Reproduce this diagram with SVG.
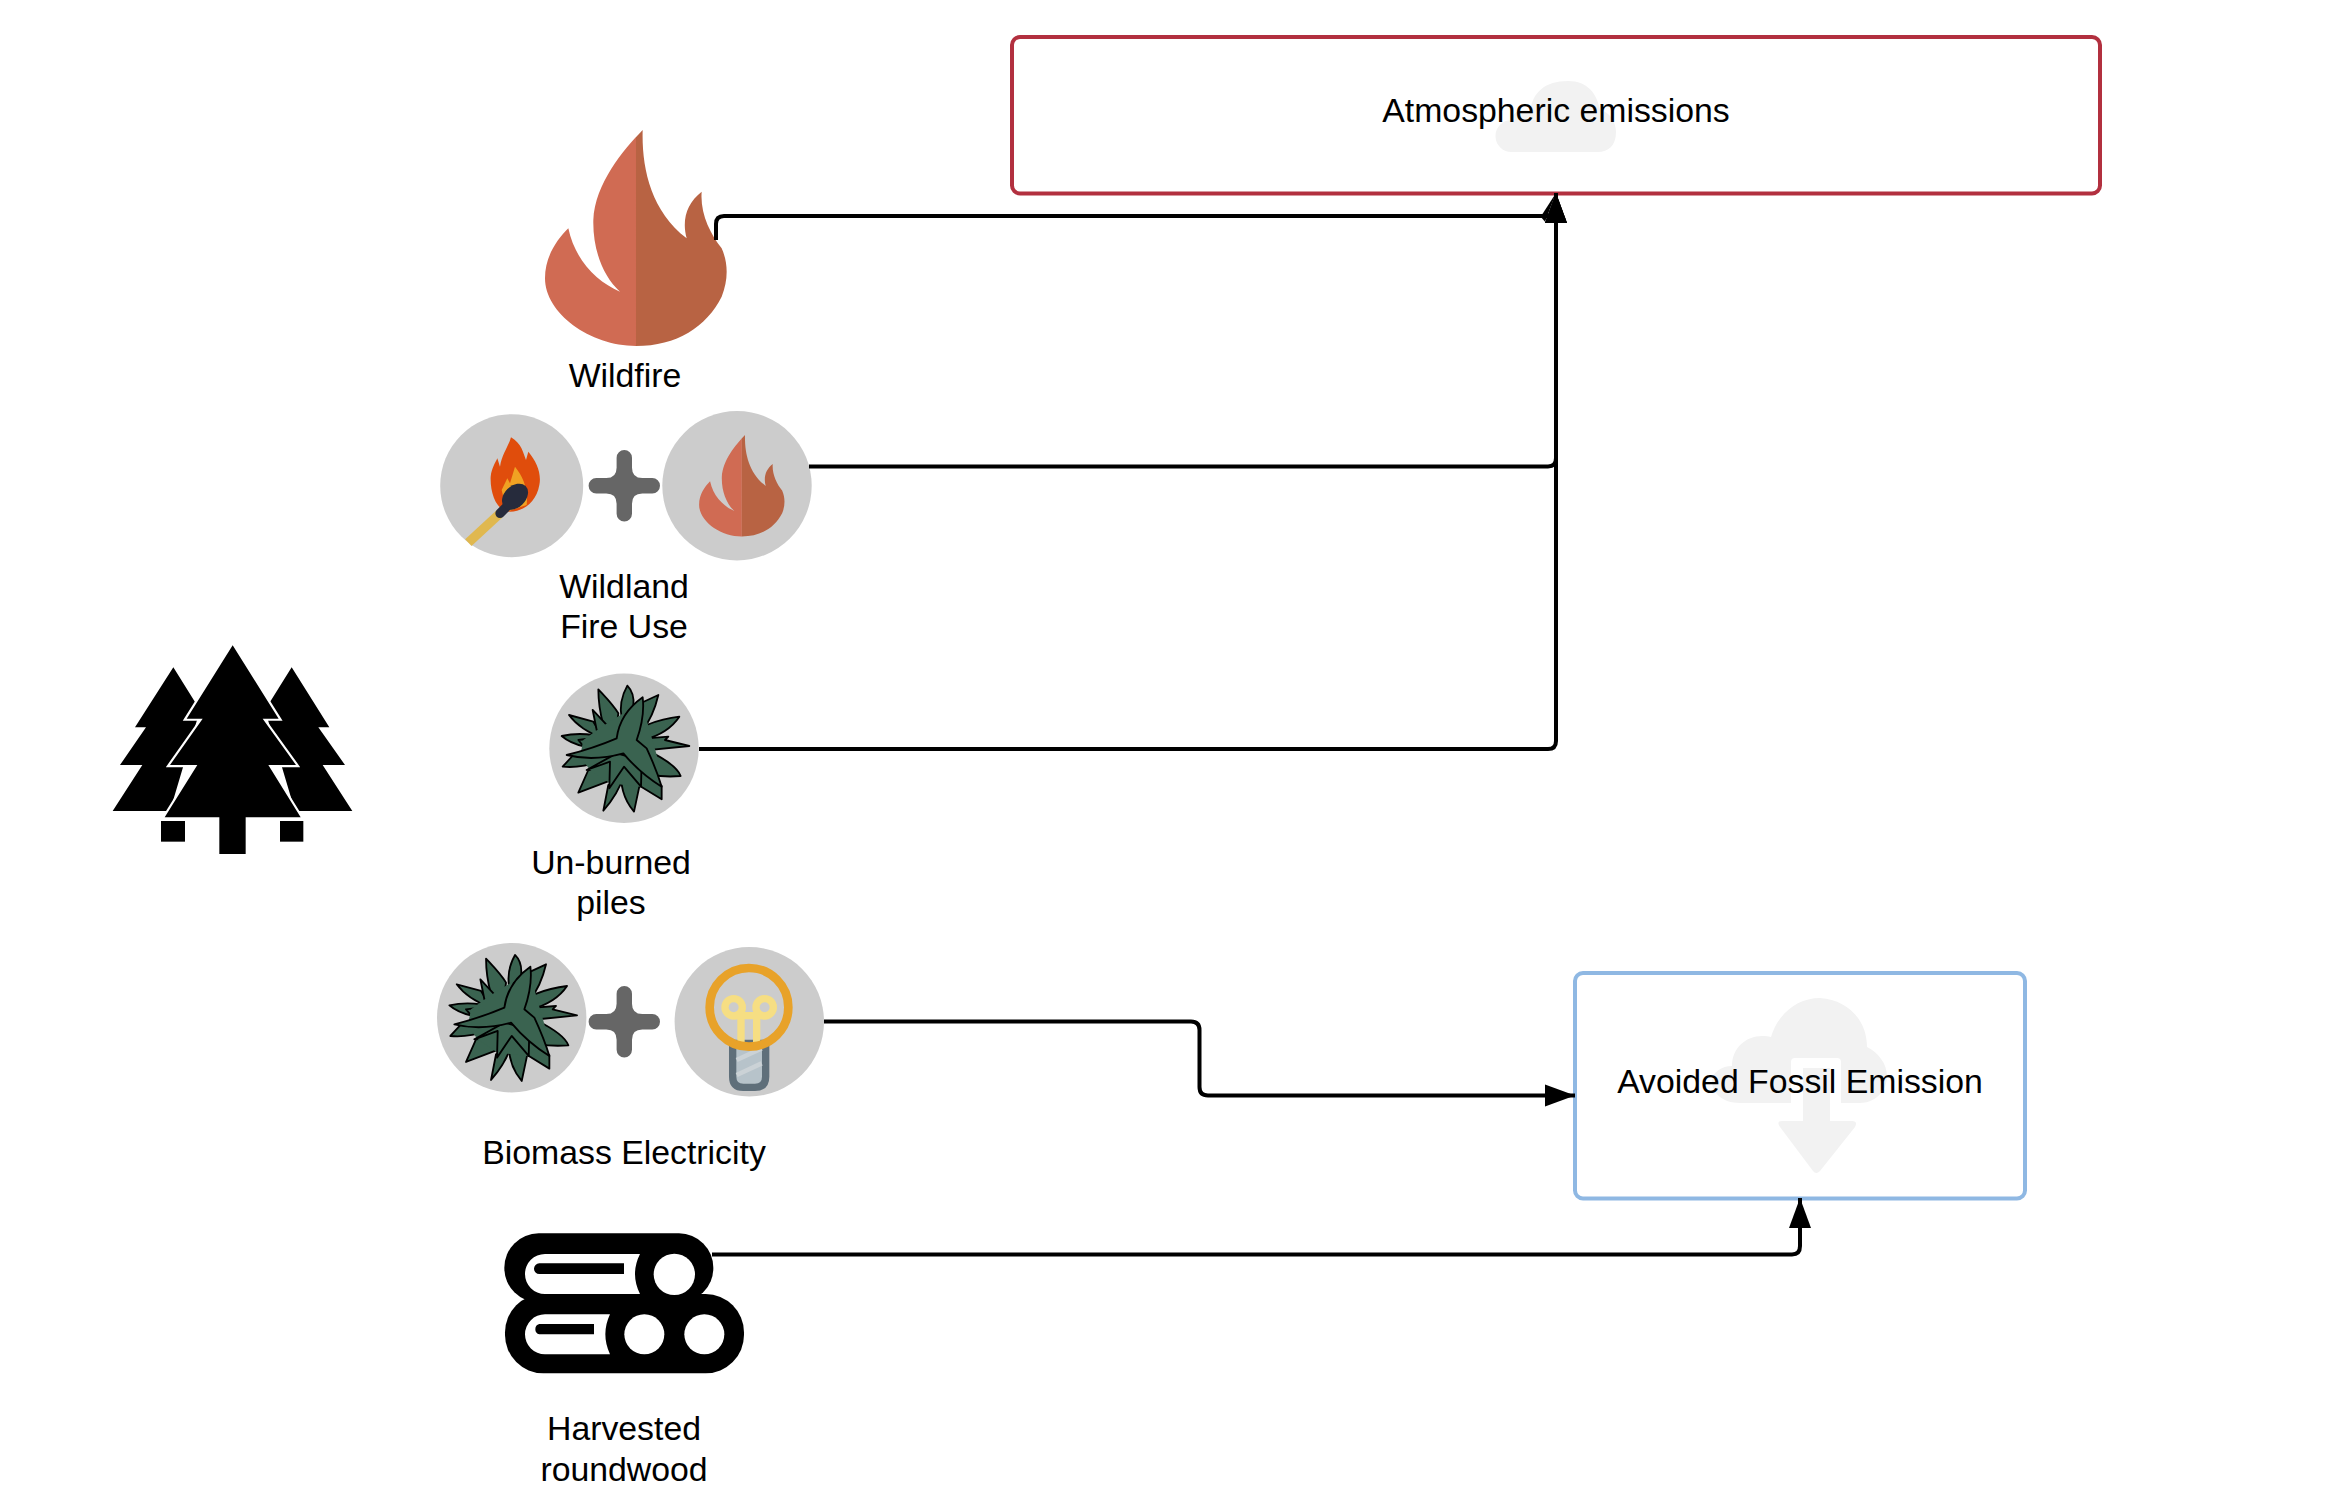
<svg xmlns="http://www.w3.org/2000/svg" xmlns:xlink="http://www.w3.org/1999/xlink" width="2337" height="1500" viewBox="0 0 2337 1500">
<style>
text{font-family:"Liberation Sans",Arial,sans-serif;font-size:33.8px;fill:#000;text-anchor:middle}
.conn{fill:none;stroke:#000;stroke-width:4}
.disc{fill:#ccc}
.plus{fill:#666}
.ghost{fill:#f2f2f2}
.leaf{fill:#3a6350;stroke:#000;stroke-width:5.500;stroke-linejoin:round}
</style>
<defs>
<marker id="arrow" markerUnits="userSpaceOnUse" markerWidth="31" markerHeight="23" refX="30" refY="11.500" orient="auto"><path d="M0 .5L30 11.500L0 22.500Z" fill="#000"/></marker>
<path id="plus-shape" d="M-7.700 -28A7.700 7.700 0 0 1 7.700 -28V-18Q7.700 -7.700 18 -7.700H28A7.700 7.700 0 0 1 28 7.700H18Q7.700 7.700 7.700 18V28A7.700 7.700 0 0 1 -7.700 28V18Q-7.700 7.700 -18 7.700H-28A7.700 7.700 0 0 1 -28 -7.700H-18Q-7.700 -7.700 -7.700 -18Z"/>
<g id="flame">
<path fill="#d06b53" d="M668 90C610 150 525 250 520 360C518 450 550 530 600 575C530 545 465 480 445 385C410 420 375 470 375 535C375 640 510 738 648 738V112Z"/>
<path fill="#b86343" d="M648 112L668 90C665 200 690 330 800 415C785 360 800 310 845 275C840 340 870 400 905 445C925 490 925 540 905 590C860 680 770 738 648 738Z"/>
</g>
<g id="plant">
<path class="leaf" d="M535 88C560 115 580 135 595 160L590 200L550 195Q535 140 535 88Z"/>
<path class="leaf" d="M622 77Q645 100 640 140L605 175Q595 125 622 77Z"/>
<path class="leaf" d="M715 105Q700 170 665 215L650 135Z"/>
<path class="leaf" d="M778 170Q745 220 670 240L680 195Q730 175 778 170Z"/>
<path class="leaf" d="M808 258L670 272L680 235L745 230L735 240Z"/>
<path class="leaf" d="M690 275Q770 315 782 348Q740 352 690 345Z"/>
<path class="leaf" d="M725 418L655 375L640 310L725 378Z"/>
<path class="leaf" d="M642 455Q595 400 605 320L660 370Z"/>
<path class="leaf" d="M550 452L565 375L610 350Q595 400 550 452Z"/>
<path class="leaf" d="M475 398L505 330L570 325L570 362Z"/>
<path class="leaf" d="M428 320L460 285L540 305Q480 325 428 320Z"/>
<path class="leaf" d="M425 228Q470 218 520 225L495 260Q450 250 425 228Z"/>
<path class="leaf" d="M447 165L520 185L550 235Q480 210 447 165Z"/>
<path class="leaf" d="M518 150L560 195L595 197L590 240L530 210Z"/>
<path class="leaf" d="M475 240L590 225L590 265L500 270Z"/>
<path class="leaf" d="M545 200L610 160L680 180L700 250L720 320L660 380L570 370L510 330L480 290L490 240Z" style="stroke:none"/>
<path class="leaf" d="M500 330L570 305L568 385L612 320L663 380L665 300L590 280Z"/>
<path class="leaf" d="M668 112Q675 170 650 240L680 265Q710 330 725 380Q660 340 610 280Q520 305 440 285Q520 265 590 235Q600 160 668 112Z"/>
</g>
</defs>
<rect width="2337" height="1500" fill="#fff"/>

<g id="atmospheric-emissions">
<rect x="1012" y="37" width="1088" height="156.500" rx="8" fill="#fff" stroke="#b2303f" stroke-width="4"/>
<path class="ghost" d="M1512 152A16 16 0 0 1 1511 120C1513 112 1522 108 1530 111C1533 92 1545 81 1568 81C1588 81 1597 94 1600 110C1610 112 1616 122 1616 132C1616 146 1608 152 1598 152Z"/>
<text x="1556" y="121.500">Atmospheric emissions</text>
</g>

<g id="avoided-fossil-emission">
<rect x="1575" y="973" width="450" height="225.500" rx="8" fill="#fff" stroke="#8fb8e3" stroke-width="4"/>
<path class="ghost" d="M1740 1103C1722 1103 1712 1092 1712 1082C1712 1072 1722 1066 1732 1066C1732 1048 1746 1036 1762 1036C1766 1036 1768 1036 1771 1037C1778 1014 1797 998 1820 998C1848 1000 1867 1020 1867 1047C1878 1052 1887 1064 1887 1076C1887 1092 1874 1103 1860 1103Z"/>
<rect x="1791" y="1058" width="50" height="60" rx="4" fill="#fff"/>
<path class="ghost" d="M1803 1068H1830V1121H1852Q1858 1121 1855 1127L1820 1171Q1816 1175 1813 1171L1780 1127Q1776 1121 1782 1121H1803Z"/>
<text x="1800" y="1092.500">Avoided Fossil Emission</text>
</g>

<g id="wildfire">
<use xlink:href="#flame" href="#flame" transform="translate(420 100) scale(.33333)"/>
<text x="625" y="386.500">Wildfire</text>
</g>

<g id="wildland-fire-use">
<circle class="disc" cx="511.700" cy="485.700" r="71.500"/>
<g transform="translate(420 100) scale(.33333)">
<path fill="#e04d0c" d="M273 1012C305 1030 310 1060 318 1080L325 1055C350 1085 365 1120 358 1155C350 1205 310 1235 270 1235C230 1235 210 1180 212 1130C215 1105 225 1090 232 1075L240 1100C245 1065 265 1040 273 1012Z"/>
<path fill="#f0a223" d="M285 1100C310 1130 325 1170 320 1215L260 1235L245 1170L262 1135L270 1150Z"/>
<path d="M145 1328L240 1240" fill="none" stroke="#e0b84f" stroke-width="28"/>
<path d="M240 1240L290 1190" fill="none" stroke="#262b3c" stroke-width="28" stroke-linecap="round"/>
<ellipse cx="285" cy="1190" rx="45" ry="32" transform="rotate(-45 285 1190)" fill="#262b3c"/>
</g>
<use class="plus" xlink:href="#plus-shape" href="#plus-shape" transform="translate(624.300 485.700)"/>
<circle class="disc" cx="737" cy="485.700" r="74.700"/>
<use xlink:href="#flame" href="#flame" transform="translate(640.350 420.900) scale(.15667)"/>
<text x="624" y="597.500">Wildland</text>
<text x="624" y="638">Fire Use</text>
</g>

<g id="unburned-piles">
<circle class="disc" cx="624" cy="748.300" r="74.700"/>
<use xlink:href="#plant" href="#plant" transform="translate(420 660) scale(.33333)"/>
<text x="611" y="874">Un-burned</text>
<text x="611" y="914">piles</text>
</g>

<g id="biomass-electricity">
<circle class="disc" cx="511.700" cy="1017.700" r="74.700"/>
<use xlink:href="#plant" href="#plant" transform="translate(307.700 929.300) scale(.33333)"/>
<use class="plus" xlink:href="#plus-shape" href="#plus-shape" transform="translate(624.300 1021.700)"/>
<circle class="disc" cx="749.300" cy="1021.700" r="74.700"/>
<g transform="translate(420 660) scale(.33333)">
<path d="M938 1150V1250Q938 1282 970 1282H1005Q1037 1282 1037 1250V1150Z" fill="#b7c3ca" stroke="#5f6f7a" stroke-width="22"/>
<path d="M950 1200L1025 1165M950 1245L1025 1210" stroke="#cbd2d6" stroke-width="14" fill="none"/>
<g fill="none" stroke="#f6de83" stroke-width="22">
<circle cx="941" cy="1042" r="26"/>
<circle cx="1034" cy="1042" r="26"/>
<path d="M963 1068V1150M1010 1068V1150M945 1067H1030"/>
</g>
<circle cx="987" cy="1042" r="118" fill="none" stroke="#e8a229" stroke-width="26"/>
</g>
<text x="624" y="1164">Biomass Electricity</text>
</g>

<g id="harvested-roundwood">
<g transform="translate(480 1220) scale(.33333)">
<rect x="73" y="40" width="627" height="207" rx="103" fill="#000"/>
<rect x="75" y="222" width="717" height="238" rx="115" fill="#000"/>
<path fill="#fff" d="M195 102H480Q450 162 480 222H195A60 60 0 0 1 195 102Z"/>
<path fill="#fff" d="M195 283H390Q362 343 390 403H195A60 60 0 0 1 195 283Z"/>
<path d="M178 130H432V162H178A16 16 0 0 1 178 130ZM178 312H342V343H178A16 16 0 0 1 178 312Z"/>
<circle cx="583" cy="163" r="62" fill="#fff"/>
<circle cx="493" cy="343" r="60" fill="#fff"/>
<circle cx="673" cy="343" r="60" fill="#fff"/>
</g>
<text x="624" y="1439.500">Harvested</text>
<text x="624" y="1480.500">roundwood</text>
</g>

<g id="forest">
<g transform="translate(90 630) scale(.33333)">
<path d="M250 112L330 240L240 543H68L157 405H90L168 292H135Z"/>
<path d="M605 112L525 240L615 543H787L698 405H765L685 292H718Z"/>
<rect x="213" y="573" width="72" height="62"/>
<rect x="570" y="573" width="70" height="62"/>
<path stroke="#fff" stroke-width="13" paint-order="stroke" d="M428 46L290 266H338L240 405H322L224 562H388V672H467V562H632L535 405H618L518 266H566Z"/>
</g>
</g>

<g id="connectors">
<path class="conn" marker-end="url(#arrow)" d="M716 240V224Q716 216 724 216H1548Q1556 216 1556 208V193"/>
<path class="conn" marker-end="url(#arrow)" d="M809 466.500H1548Q1556 466.500 1556 458V193"/>
<path class="conn" marker-end="url(#arrow)" d="M699 749H1548Q1556 749 1556 741V193"/>
<path class="conn" marker-end="url(#arrow)" d="M824 1021.500H1191Q1199.500 1021.500 1199.500 1030V1087Q1199.500 1095.500 1208 1095.500H1575"/>
<path class="conn" marker-end="url(#arrow)" d="M712 1254.500H1792Q1800 1254.500 1800 1246V1198"/>
<path fill="#000" d="M1556 193L1540.700 216.700L1545 221.700Z"/>
</g>
</svg>
